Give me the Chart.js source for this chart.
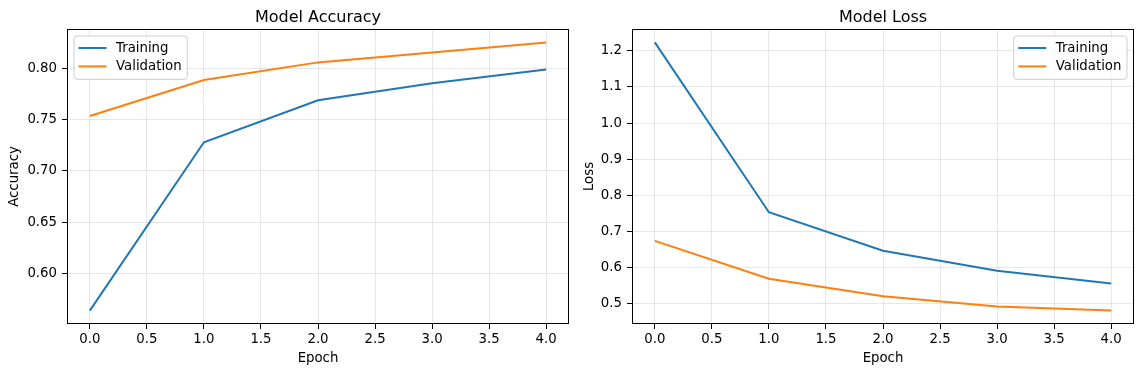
<!DOCTYPE html>
<html><head><meta charset="utf-8">
<script src="https://cdn.jsdelivr.net/npm/chart.js@4.4.1/dist/chart.umd.min.js"></script>
<style>
html,body{margin:0;padding:0;background:#fff;width:1142px;height:374px;overflow:hidden;}
.wrap{position:absolute;top:0;height:374px;}
canvas{display:block;}
</style></head><body>
<div class="wrap" style="left:0;width:575px"><canvas id="c1" width="575" height="374"></canvas></div>
<div class="wrap" style="left:575px;width:567px"><canvas id="c2" width="567" height="374"></canvas></div>
<script>
// ---- data ----
const epochs = [0, 1, 2, 3, 4];
const accTrain = [0.5636, 0.7279, 0.7689, 0.7855, 0.7990];
const accVal   = [0.7536, 0.7887, 0.8059, 0.8156, 0.8254];
const lossTrain = [1.2230, 0.7535, 0.6470, 0.5917, 0.5563];
const lossVal   = [0.6742, 0.5696, 0.5212, 0.4926, 0.4815];
const seriesLabels = ['Training', 'Validation'];
const xTicks = [0, 0.5, 1, 1.5, 2, 2.5, 3, 3.5, 4];
const accTicks = [0.60, 0.65, 0.70, 0.75, 0.80];
const lossTicks = [0.5, 0.6, 0.7, 0.8, 0.9, 1.0, 1.1, 1.2];

Chart.defaults.font.family = "'DejaVu Sans', sans-serif";
Chart.defaults.color = '#000';

const FS = 13.3;
const GRID = 'rgba(176,176,176,0.3)';
const COLORS = ['#1f77b4', '#ff7f0e'];

function limits(arrs) {
  const all = [].concat(...arrs);
  const lo = Math.min(...all), hi = Math.max(...all);
  const m = (hi - lo) * 0.05;
  return [lo - m, hi + m];
}

const framePlugin = {
  id: 'frame',
  afterLayout(chart) {
    const t = chart.titleBlock, a = chart.chartArea;
    if (t) { t.left = a.left; t.right = a.right; t.width = a.right - a.left; }
  },
  afterDatasetsDraw(chart) {
    const {ctx, chartArea: a} = chart;
    ctx.save();
    ctx.strokeStyle = '#000';
    ctx.lineWidth = 1;
    ctx.strokeRect(Math.round(a.left) + 0.5, Math.round(a.top) + 0.5,
                   Math.round(a.right - a.left) - 1, Math.round(a.bottom - a.top) - 1);
    ctx.restore();
  },
  afterDraw(chart, args, opts) {
    const {ctx, chartArea: a} = chart;
    const ds = chart.data.datasets;
    ctx.save();
    ctx.font = FS + "px 'DejaVu Sans'";
    const tw = Math.max(...ds.map(d => ctx.measureText(d.label).width));
    const boxW = 42 + tw + 5.6, boxH = 43.3;
    const left = opts.side === 'right' ? a.right - 7 - boxW : a.left + 7;
    const top = a.top + 7;
    const r = 3;
    ctx.beginPath();
    ctx.moveTo(left + r, top);
    ctx.arcTo(left + boxW, top, left + boxW, top + boxH, r);
    ctx.arcTo(left + boxW, top + boxH, left, top + boxH, r);
    ctx.arcTo(left, top + boxH, left, top, r);
    ctx.arcTo(left, top, left + boxW, top, r);
    ctx.closePath();
    ctx.fillStyle = 'rgba(255,255,255,0.8)';
    ctx.fill();
    ctx.strokeStyle = '#cccccc';
    ctx.lineWidth = 1;
    ctx.stroke();
    ds.forEach((d, i) => {
      const y = top + 12 + i * 18.4;
      ctx.strokeStyle = d.borderColor;
      ctx.lineWidth = 2;
      ctx.beginPath();
      ctx.moveTo(left + 4.5, y);
      ctx.lineTo(left + 32.5, y);
      ctx.stroke();
      ctx.fillStyle = '#000';
      ctx.textBaseline = 'middle';
      ctx.textAlign = 'left';
      ctx.fillText(d.label, left + 42, y + 0.5);
    });
    ctx.restore();
  }
};

function makeChart(id, title, yTitle, train, val, yTicks, decimals, yWidth, padRight, legendSide) {
  const [ymin, ymax] = limits([train, val]);
  const [xmin, xmax] = limits([epochs]);
  return new Chart(document.getElementById(id), {
    type: 'line',
    data: {
      datasets: [train, val].map((arr, k) => ({
        label: seriesLabels[k],
        data: epochs.map((e, i) => ({x: e, y: arr[i]})),
        borderColor: COLORS[k],
        backgroundColor: COLORS[k],
        borderWidth: 2,
        pointRadius: 0,
        tension: 0,
        fill: false
      }))
    },
    options: {
      responsive: false,
      animation: false,
      layout: {padding: {left: 0, right: padRight, top: 0, bottom: 0}},
      plugins: {
        legend: {display: false},
        tooltip: {enabled: false},
        title: {
          display: true, text: title, color: '#000',
          font: {size: 16, weight: 'normal'},
          padding: {top: 8.5, bottom: 1.3}
        },
        frame: {side: legendSide}
      },
      scales: {
        x: {
          type: 'linear', min: xmin, max: xmax,
          afterBuildTicks: s => { s.ticks = xTicks.map(v => ({value: v})); },
          afterFit: s => { s.height = 50; },
          ticks: {callback: v => Number(v).toFixed(1), padding: 2.5, font: {size: FS}, color: '#000', maxRotation: 0, autoSkip: false},
          grid: {color: GRID, lineWidth: 1, tickColor: '#000', tickLength: 5, tickWidth: 1},
          border: {display: false},
          title: {display: true, text: 'Epoch', color: '#000', font: {size: FS}, padding: {top: 0, bottom: 7}}
        },
        y: {
          type: 'linear', min: ymin, max: ymax,
          afterBuildTicks: s => { s.ticks = yTicks.map(v => ({value: v})); },
          afterFit: s => { s.width = yWidth; },
          ticks: {callback: v => Number(v).toFixed(decimals), padding: 5, font: {size: FS}, color: '#000', autoSkip: false},
          grid: {color: GRID, lineWidth: 1, tickColor: '#000', tickLength: 5, tickWidth: 1},
          border: {display: false},
          title: {display: true, text: yTitle, color: '#000', font: {size: FS}, padding: {top: 6.5, bottom: 0}}
        }
      }
    },
    plugins: [framePlugin]
  });
}

makeChart('c1', 'Model Accuracy', 'Accuracy', accTrain, accVal, accTicks, 2, 67, 6, 'left');
makeChart('c2', 'Model Loss', 'Loss', lossTrain, lossVal, lossTicks, 1, 57, 8, 'right');
</script>
</body></html>
